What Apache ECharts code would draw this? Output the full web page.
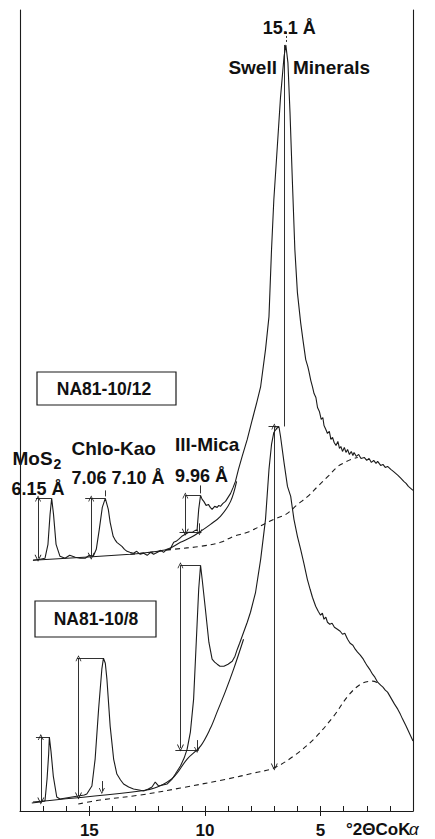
<!DOCTYPE html>
<html><head><meta charset="utf-8">
<script src="https://cdn.jsdelivr.net/npm/echarts@6/dist/echarts.min.js"></script>
<style>html,body{margin:0;padding:0;background:#fff}#c{width:435px;height:839px}</style>
</head><body><div id="c"></div>
<script>
// ---- Sample NA81-10/12 (upper trace): degrees 2θ CoKα, relative intensity ----
const upperTheta = [17.44,17.13,16.92,16.79,16.70,16.63,16.55,16.44,16.27,16.05,15.85,15.61,15.40,15.18,15.00,14.83,14.70,14.57,14.44,14.31,14.18,14.10,13.97,13.90,13.81,13.70,13.59,13.48,13.37,13.25,13.09,12.95,12.80,12.65,12.50,12.35,12.22,12.05,11.90,11.79,11.65,11.50,11.42,11.35,11.25,11.14,11.00,10.85,10.70,10.55,10.42,10.34,10.27,10.19,10.12,10.05,9.95,9.85,9.77,9.69,9.58,9.47,9.40,9.33,9.22,9.11,9.00,8.89,8.78,8.68,8.55,8.39,8.17,7.95,7.77,7.59,7.38,7.23,7.12,7.02,6.87,6.73,6.58,6.50,6.41,6.32,6.22,6.11,6.00,5.86,5.75,5.64,5.55,5.50,5.42,5.35,5.28,5.20,5.13,5.05,4.97,4.90,4.85,4.77,4.70,4.62,4.55,4.48,4.41,4.33,4.25,4.18,4.12,4.05,3.97,3.90,3.83,3.75,3.67,3.60,3.55,3.45,3.35,3.25,3.11,3.00,2.90,2.80,2.70,2.60,2.53,2.40,2.30,2.20,2.10,1.96,1.85,1.75,1.65,1.52,1.40,1.30,1.20,1.10,1.00];
const upperInt   = [251,252,253,267,297,313,297,267,255,253,256,254,253,253,256,255,262,282,304,313,302,289,275,272,269,267,265,262,260,259,258,260,257,258,256,259,257,259,261,259,262,262,266,269,270,272,275,277,279,279,281,281,302,316,312,310,306,307,304,302,305,304,306,305,308,310,314,318,324,330,342,355,372,392,408,425,462,495,562,612,665,715,755,767,749,699,632,562,519,489,470,452,445,440,431,425,418,414,404,400,392,394,386,382,378,380,372,374,369,366,370,363,365,360,364,359,362,357,360,356,359,355,357,353,354,351,353,349,351,348,350,346,347,344,345,342,340,338,336,333,330,328,325,323,321];
const upperBgTheta = [17.44,13.23,12.40,11.63,11.06,10.60,10.19,9.76,9.33,8.89,8.63];
const upperBgInt   = [251,257,259,262,269,274,280,287,295,310,330];
const upperDashTheta = [13.23,12.36,11.37,10.19,9.33,8.76,8.16,7.29,7.03,6.50,5.99,5.55,5.12,4.68,4.25,3.95,3.69,3.39];
const upperDashInt   = [257,259,262,265,269,275,279,289,292,297,307,315,325,335,345,349,352,354];

// ---- Sample NA81-10/8 (lower trace) ----
const lowerTheta = [17.49,17.13,16.92,16.83,16.76,16.73,16.66,16.56,16.41,16.27,16.01,15.75,15.48,15.22,15.11,14.89,14.75,14.60,14.46,14.39,14.31,14.24,14.10,13.95,13.81,13.65,13.52,13.30,13.09,12.85,12.65,12.45,12.29,12.15,12.00,11.82,11.64,11.42,11.28,11.06,10.90,10.77,10.63,10.49,10.41,10.34,10.27,10.19,10.12,9.98,9.83,9.69,9.58,9.47,9.35,9.18,9.00,8.82,8.70,8.60,8.50,8.39,8.28,8.17,8.03,7.81,7.59,7.38,7.23,7.12,7.02,6.90,6.80,6.73,6.58,6.43,6.29,6.15,6.00,5.86,5.72,5.57,5.45,5.35,5.21,5.10,5.00,4.92,4.85,4.77,4.70,4.60,4.50,4.40,4.27,4.15,4.05,3.95,3.83,3.72,3.60,3.50,3.40,3.28,3.15,3.05,2.97,2.85,2.75,2.65,2.53,2.40,2.30,2.20,2.10,2.00,1.90,1.80,1.66,1.55,1.45,1.30,1.20,1.10,1.00];
const lowerInt   = [8,9,10,32,57,74,60,35,14,12,13,14,15,16,17,25,52,102,142,153,148,132,85,52,37,31,27,24,22,21,20,22,24,29,25,26,27,32,37,45,53,62,79,112,152,187,222,246,232,202,169,152,149,147,145,145,147,150,155,162,168,175,182,189,199,219,252,292,342,367,379,383,385,375,349,325,315,292,275,262,248,232,222,214,205,200,196,198,192,194,189,187,188,184,182,180,177,178,172,168,166,162,159,156,152,148,145,141,137,134,129,126,124,121,119,115,111,107,102,97,92,85,80,75,70];
const lowerBgTheta = [17.44,12.80,12.06,11.35,10.77,10.19,9.76,9.46,9.11,8.76,8.33];
const lowerBgInt   = [9,20,24,34,52,65,83,100,120,142,172];
const lowerDashTheta = [15.48,14.53,12.80,11.06,9.04,7.90,7.03,6.16,5.29,4.43,3.82,3.26,2.75,2.50];
const lowerDashInt   = [7,11,16,23,32,38,43,55,72,95,115,127,130,128];

// ---- Peak-height annotations: [2θ, from intensity, to intensity] ----
const arrowShafts = [[17.22,313,253],[14.92,313,255],[10.85,316,279],[17.10,74,10],[15.47,153,15],[11.06,246,63],[7.00,385,44]];
const smallArrows = [[10.24,288,279],[10.34,71,61],[14.46,30,20]];
const peakCaps    = [[17.31,16.63,313],[15.18,14.31,313],[10.85,10.19,316],[17.31,16.73,74],[15.54,14.39,153],[11.06,10.19,246],[7.25,6.80,385]];
const baseCaps    = [[11.10,10.15,279],[11.28,10.28,61]];
const plainRules  = [[6.56,767,385],[14.31,321,315],[10.19,326,318]];
const dashRules   = [[6.50,780,770]];
const axisTickLabels = [5,10,15];

const pairs = (xs, ys) => xs.map((x, i) => [x, ys[i]]);
const INK = '#1b1b1b';
const FONT = '"Liberation Sans", Arial, Helvetica, sans-serif';
const chev = 'path://M0,10 L5,0 L10,10 L8.6,10 L5,2.6 L1.4,10 Z';

function trace(data, dashed, smooth) {
  return {type:'line', data, showSymbol:false, symbol:'none', smooth: smooth || false,
    silent:true, animation:false,
    lineStyle:{color:INK, width:1.1, type: dashed ? [5,4] : 'solid'}};
}
function segs(list, fn) { return list.map(fn); }

const vert = a => ({coords:[[a[0],a[1]],[a[0],a[2]]]});
const horiz = a => ({coords:[[a[0],a[2]],[a[1],a[2]]]});

const chart = echarts.init(document.getElementById('c'), null, {renderer:'svg'});
const txt = (text, x, y, size, align, style) => ({type:'text', silent:true, style:{
  text, x, y, font:`${style||'bold'} ${size}px ${FONT}`, fill:'#111', textAlign:align||'left', align:align||'left',
  textVerticalAlign:'middle', verticalAlign:'middle'}});

chart.setOption({
  animation:false,
  backgroundColor:'#fff',
  grid:{left:20, right:22, top:10, bottom:27},
  xAxis:[{
    type:'value', min:1, max:18, interval:1, inverse:true,
    axisLine:{show:true, lineStyle:{color:INK, width:1.1}},
    axisTick:{show:true, inside:true, length:5, lineStyle:{color:INK, width:1}},
    axisLabel:{show:true, margin:11, color:'#111', fontSize:17, fontWeight:'bold', fontFamily:FONT,
      formatter: v => axisTickLabels.includes(v) ? String(v) : ''},
    splitLine:{show:false}
  },{
    type:'value', min:1, max:18, inverse:true, position:'bottom',
    axisLine:{show:false},
    axisTick:{show:true, inside:false, length:5, customValues:axisTickLabels, lineStyle:{color:INK, width:1}},
    axisLabel:{show:false}, splitLine:{show:false}
  }],
  yAxis:[{
    type:'value', min:0, max:802,
    axisLine:{show:true, lineStyle:{color:INK, width:1.1}},
    axisTick:{show:false}, axisLabel:{show:false}, splitLine:{show:false}
  },{
    type:'value', min:0, max:802, position:'right',
    axisLine:{show:true, lineStyle:{color:INK, width:1.1}},
    axisTick:{show:false}, axisLabel:{show:false}, splitLine:{show:false}
  }],
  series:[
    trace(pairs(upperTheta, upperInt)),
    trace(pairs(upperBgTheta, upperBgInt), false, 0.35),
    trace(pairs(upperDashTheta, upperDashInt), true, 0.35),
    trace(pairs(lowerTheta, lowerInt)),
    trace(pairs(lowerBgTheta, lowerBgInt), false, 0.35),
    trace(pairs(lowerDashTheta, lowerDashInt), true, 0.35),
    {type:'lines', coordinateSystem:'cartesian2d', silent:true, animation:false,
      symbol:[chev, chev], symbolSize:[6,7],
      lineStyle:{color:INK, width:0.9, opacity:1, curveness:0},
      data: segs(arrowShafts, vert)},
    {type:'lines', coordinateSystem:'cartesian2d', silent:true, animation:false,
      symbol:['none', chev], symbolSize:[5,6],
      lineStyle:{color:INK, width:0.9, opacity:1, curveness:0},
      data: segs(smallArrows, vert)},
    {type:'lines', coordinateSystem:'cartesian2d', silent:true, animation:false,
      symbol:['none','none'],
      lineStyle:{color:INK, width:0.9, opacity:1, curveness:0},
      data: segs(peakCaps, horiz).concat(segs(baseCaps, horiz), segs(plainRules, vert))},
    {type:'lines', coordinateSystem:'cartesian2d', silent:true, animation:false,
      symbol:['none','none'],
      lineStyle:{color:INK, width:0.9, opacity:1, type:[2,2], curveness:0},
      data: segs(dashRules, vert)}
  ],
  graphic:[
    txt('15.1 Å', 262.7, 27.5, 18),
    txt('Swell', 277, 67, 19, 'right'),
    txt('Minerals', 293, 67, 19),
    {type:'rect', silent:true, shape:{x:37, y:372, width:139, height:33}, style:{fill:'none', stroke:INK, lineWidth:1.2}},
    txt('NA81-10/12', 104, 388.5, 17.5, 'center'),
    {type:'rect', silent:true, shape:{x:35, y:601, width:121, height:36}, style:{fill:'none', stroke:INK, lineWidth:1.2}},
    txt('NA81-10/8', 96, 619, 17.5, 'center'),
    txt('MoS', 12.5, 458, 19),
    txt('2', 53.5, 464, 14),
    txt('6.15 Å', 11.5, 489, 18),
    txt('Chlo-Kao', 71.5, 448, 19),
    txt('7.06 7.10 Å', 71.5, 478, 18),
    txt('Ill-Mica', 175, 444.5, 19),
    txt('9.96 Å', 175, 475.5, 18),
    txt('°2ΘCoK', 346, 829, 17),
    txt('α', 409, 829, 17, 'left', 'italic')
  ]
});
</script></body></html>
